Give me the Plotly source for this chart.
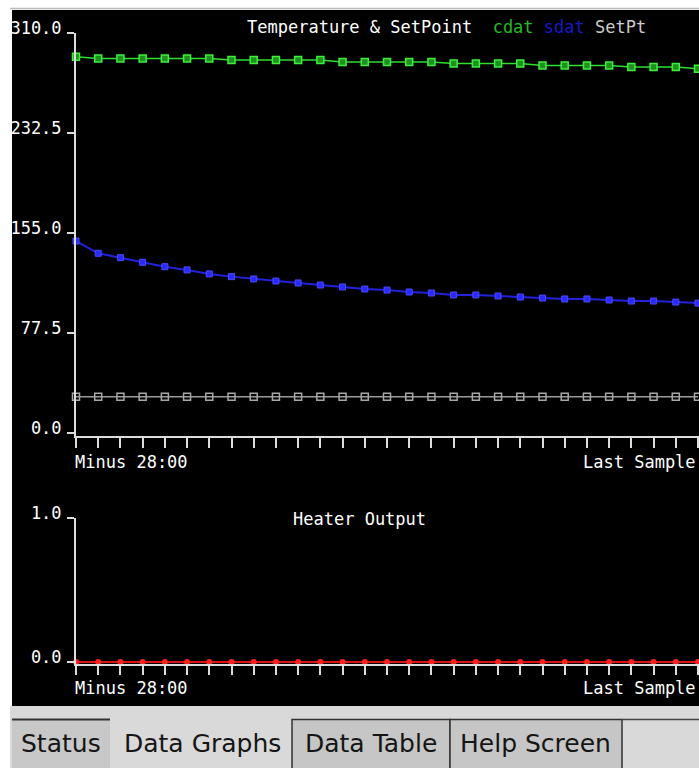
import plotly.graph_objects as go

W, H = 699, 768

# ---------------- data ----------------
samples = list(range(29))  # Minus 28:00 ... Last Sample
cdat = [291.5] + [290.3] * 6 + [289.0] * 5 + [287.5] * 5 + [286.3] * 4 + [284.8] * 4 + [283.6] * 3 + [282.2]
sdat = [148.8, 139.3, 135.9, 132.3, 128.9, 126.4, 123.3, 121.2, 119.4, 117.8,
        116.3, 114.7, 113.2, 111.6, 110.8, 109.3, 108.5, 107.0, 107.0, 106.2,
        105.4, 104.6, 103.9, 103.9, 103.1, 102.3, 102.3, 101.5, 100.7]
setpt = [28.1] * 29
heater = [0.0] * 29

temp_ticks = [0, 77.5, 155, 232.5, 310]
temp_ticktext = ["0.0", "77.5", "155.0", "232.5", "310.0"]
heat_ticks = [0, 1]
heat_ticktext = ["0.0", "1.0"]
x_first_label = "Minus 28:00"
x_last_label = "Last Sample"
tabs = ["Status", "Data Graphs", "Data Table", "Help Screen"]


def px(x):
    return x / W


def py(y):
    return 1 - y / H


MONO = "DejaVu Sans Mono"
AX = "#dddddd"

fig = go.Figure()

fig.add_trace(go.Scatter(x=samples, y=setpt, mode="lines+markers", cliponaxis=False,
                         line=dict(color="#9a9a9a", width=1.5),
                         marker=dict(symbol="square-open", size=7, color="#a8a8a8", line=dict(width=1.5)),
                         xaxis="x", yaxis="y", name="SetPt"))
fig.add_trace(go.Scatter(x=samples, y=sdat, mode="lines+markers", cliponaxis=False,
                         line=dict(color="#2222dd", width=2),
                         marker=dict(symbol="square", size=6, color="#2a2aff", line=dict(color="#4a4aff", width=1)),
                         xaxis="x", yaxis="y", name="sdat"))
fig.add_trace(go.Scatter(x=samples, y=cdat, mode="lines+markers", cliponaxis=False,
                         line=dict(color="#2fe02f", width=1.5),
                         marker=dict(symbol="square", size=7, color="#1f8f1f", line=dict(color="#3cf03c", width=1.5)),
                         xaxis="x", yaxis="y", name="cdat"))
fig.add_trace(go.Scatter(x=samples, y=heater, mode="lines+markers", cliponaxis=False,
                         line=dict(color="#dd1111", width=2),
                         marker=dict(symbol="circle", size=6, color="#ff2020"),
                         xaxis="x2", yaxis="y2", name="Heater"))

xmax = 28 * 623 / 622
common_x = dict(range=[0, xmax], showline=True, linecolor=AX, linewidth=2,
                ticks="outside", tickcolor=AX, tickwidth=2, tick0=0, dtick=1,
                showticklabels=False, showgrid=False, zeroline=False, automargin=False,
                domain=[px(76), 1])
common_y = dict(showline=True, linecolor=AX, linewidth=2, ticks="outside",
                tickcolor=AX, tickwidth=2, ticklen=7, showgrid=False, zeroline=False,
                automargin=False,
                tickmode="array", tickfont=dict(family=MONO, size=17, color="white"),
                ticklabelshift=-5, ticklabelstandoff=2)

fig.update_layout(
    width=W, height=H, autosize=False,
    margin=dict(l=0, r=0, t=0, b=0, pad=0),
    paper_bgcolor="white",
    plot_bgcolor="rgba(0,0,0,0)",
    showlegend=False,
    xaxis=dict(**common_x, anchor="y", ticklen=10),
    yaxis=dict(**common_y, range=[-2.3, 310], tickvals=temp_ticks, ticktext=temp_ticktext,
               domain=[py(436), py(33)], anchor="x"),
    xaxis2=dict(**common_x, anchor="y2", ticklen=9),
    yaxis2=dict(**common_y, range=[-2 / 144, 1], tickvals=heat_ticks, ticktext=heat_ticktext,
                domain=[py(664), py(518)], anchor="x2"),
)

shapes = [
    dict(type="rect", xref="paper", yref="paper", x0=px(12), x1=1, y0=py(706), y1=py(10),
         fillcolor="black", line=dict(width=0), layer="below"),
    dict(type="line", xref="paper", yref="paper", x0=px(10), x1=1, y0=py(8.5), y1=py(8.5),
         line=dict(color="#b8b8b8", width=1.5), layer="below"),
    # tab bar
    dict(type="rect", xref="paper", yref="paper", x0=px(10), x1=1, y0=0, y1=py(706),
         fillcolor="#d9d9d9", line=dict(width=0), layer="below"),
    # Status tab
    dict(type="rect", xref="paper", yref="paper", x0=px(12), x1=px(110), y0=0, y1=py(720),
         fillcolor="#c8c8c8", line=dict(width=0), layer="below"),
    dict(type="line", xref="paper", yref="paper", x0=px(12), x1=px(110), y0=py(719.5), y1=py(719.5),
         line=dict(color="#333333", width=2), layer="below"),
    # Data Table / Help Screen tabs
    dict(type="rect", xref="paper", yref="paper", x0=px(292), x1=px(450), y0=py(769), y1=py(719.5),
         fillcolor="#c6c6c6", line=dict(color="#333333", width=1.5), layer="below"),
    dict(type="rect", xref="paper", yref="paper", x0=px(450), x1=px(622), y0=py(769), y1=py(719.5),
         fillcolor="#c6c6c6", line=dict(color="#333333", width=1.5), layer="below"),
    dict(type="line", xref="paper", yref="paper", x0=px(622), x1=1, y0=py(719.5), y1=py(719.5),
         line=dict(color="#444444", width=1.5), layer="below"),
]
fig.update_layout(shapes=shapes)

ann = []
ann.append(dict(xref="paper", yref="paper", x=px(245), y=py(27), xanchor="left", yanchor="middle",
                showarrow=False, font=dict(family=MONO, size=17, color="white"),
                text="Temperature &amp; SetPoint  <span style='color:#22bb22'>cdat</span> "
                     "<span style='color:#1818c8'>sdat</span> <span style='color:#cccccc'>SetPt</span>"))
ann.append(dict(xref="paper", yref="paper", x=px(291), y=py(519), xanchor="left", yanchor="middle",
                showarrow=False, font=dict(family=MONO, size=17, color="white"), text="Heater Output"))
for xr, ylab in (("x", 462), ("x2", 688)):
    ann.append(dict(xref=xr, yref="paper", x=samples[0], y=py(ylab), xanchor="left", yanchor="middle",
                    xshift=-3, showarrow=False, font=dict(family=MONO, size=17, color="white"),
                    text=x_first_label))
    ann.append(dict(xref=xr, yref="paper", x=samples[-1], y=py(ylab), xanchor="right", yanchor="middle",
                    xshift=0, showarrow=False, font=dict(family=MONO, size=17, color="white"),
                    text=x_last_label))
tab_centers = [61, 202, 371, 535]
for t, cx in zip(tabs, tab_centers):
    ann.append(dict(xref="paper", yref="paper", x=px(cx), y=py(743), xanchor="center", yanchor="middle",
                    showarrow=False, font=dict(family="DejaVu Sans", size=25, color="#151515"), text=t))
fig.update_layout(annotations=ann)

fig.write_html("out.html",
               config={"displayModeBar": False, "responsive": False},
               post_script="document.body.style.margin='0';document.body.style.padding='0';"
                           "document.body.style.overflow='hidden';")
